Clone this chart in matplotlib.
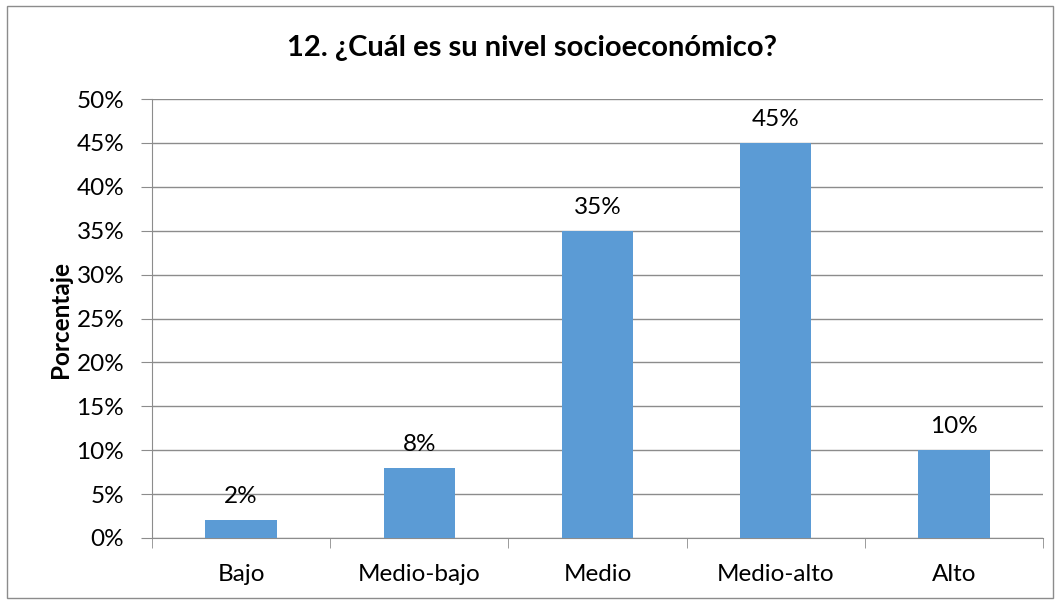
import matplotlib
matplotlib.use("Agg")
import matplotlib.pyplot as plt
from matplotlib.patches import Rectangle

categories = ["Bajo", "Medio-bajo", "Medio", "Medio-alto", "Alto"]
values = [2, 8, 35, 45, 10]
yticks = [0, 5, 10, 15, 20, 25, 30, 35, 40, 45, 50]
title = "12. ¿Cuál es su nivel socioeconómico?"
ylabel = "Porcentaje"

plt.rcParams['font.family'] = ['Lato', 'DejaVu Sans']

fig = plt.figure(figsize=(10.6, 6.01), dpi=100)
ax = fig.add_axes([152/1060, 1-538/601, (1043-152)/1060, (538-99)/601])

grid_c = "#8c8c8c"
fs = 17.5
x = list(range(len(categories)))
bars = ax.bar(x, values, width=0.4, color="#5B9BD5", zorder=3)
for xi, v in zip(x, values):
    ax.text(xi, v + 1.5, f"{v}%", ha="center", va="bottom", fontsize=fs, color="black")

ax.set_xlim(-0.5, len(categories) - 0.5)
ax.set_ylim(0, 50)
ax.set_yticks(yticks)
ax.set_yticklabels([f"{t}%" for t in yticks], fontsize=fs)
ax.yaxis.grid(True, color=grid_c, linewidth=1, zorder=0)
ax.set_axisbelow(True)
ax.set_xticks(x)
ax.set_xticklabels(categories, fontsize=fs)
ax.tick_params(axis="x", length=0, pad=19)
ax.tick_params(axis="y", length=8, color=grid_c, pad=12)
# category boundary ticks
ax.set_xticks([i - 0.5 for i in range(len(categories) + 1)], minor=True)
ax.tick_params(axis="x", which="minor", length=7, color=grid_c, direction="out")
for s in ["top", "right"]:
    ax.spines[s].set_visible(False)
ax.spines["left"].set_color(grid_c)
ax.spines["bottom"].set_color(grid_c)

fig.text(60 / 1060, 1 - 320 / 601, ylabel, rotation=90, ha="center", va="center",
         fontsize=fs, fontweight="bold")
fig.text(532 / 1060, 1 - 48 / 601, title, ha="center", va="center",
         fontsize=21, fontweight="bold")

fig.patches.append(Rectangle((7/1060, 1-598/601), (1053-7)/1060, (598-6)/601,
                             transform=fig.transFigure, fill=False,
                             edgecolor="#8c8c8c", linewidth=1))

fig.savefig("out.png", dpi=100)
